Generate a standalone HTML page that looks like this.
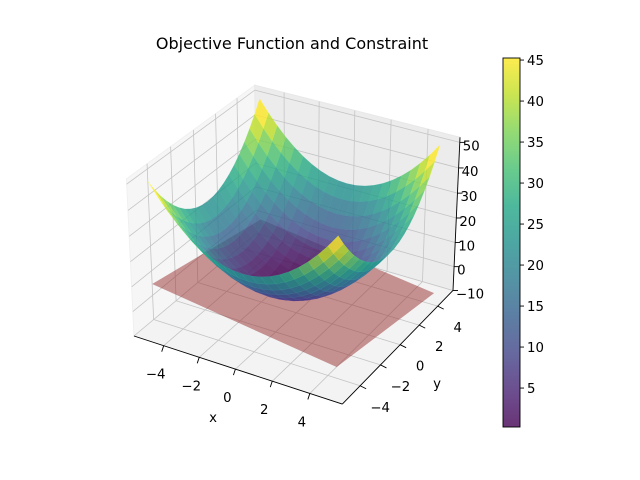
<!DOCTYPE html>
<html><head><meta charset="utf-8"><style>
html,body{margin:0;padding:0;background:#fff;width:640px;height:480px;overflow:hidden}
svg{display:block;font-family:"DejaVu Sans","Liberation Sans",sans-serif}
</style></head><body>
<svg id="chart" width="640" height="480" viewBox="0 0 640 480" xmlns="http://www.w3.org/2000/svg">
<text x="292" y="49" font-size="16" text-anchor="middle" fill="#000">Objective Function and Constraint</text>
<g id="axes3d"></g>
<g id="cbar"></g>
</svg>
<script>
const xVals=[-5,-4.5,-4,-3.5,-3,-2.5,-2,-1.5,-1,-0.5,0,0.5,1,1.5,2,2.5,3,3.5,4,4.5,5];
const yVals=[-5,-4.5,-4,-3.5,-3,-2.5,-2,-1.5,-1,-0.5,0,0.5,1,1.5,2,2.5,3,3.5,4,4.5,5];
const planeCoef=[-1,-1,0]; // constraint plane z = a*x + b*y + c
const planeExtent=[-5,5];
const xTicks=[-4,-2,0,2,4];
const yTicks=[-4,-2,0,2,4];
const zTicks=[-10,0,10,20,30,40,50];
const cbarTicks=[5,10,15,20,25,30,35,40,45];
const xlim=[-5.7,5.7], ylim=[-5.7,5.7], zlim=[-10,52];
function objective(x,y){return x*x+y*y;}

const NS="http://www.w3.org/2000/svg";
function mk(tag,attrs,parent){const e=document.createElementNS(NS,tag);for(const k in attrs)e.setAttribute(k,attrs[k]);parent.appendChild(e);return e;}
const VIR=[[68,1,84],[72,35,116],[64,67,135],[52,94,141],[41,120,142],[32,144,140],[34,167,132],[68,190,112],[121,209,81],[189,222,38],[253,231,36]];
function viridis(t){t=Math.max(0,Math.min(1,t));const f=t*10,i=Math.min(9,Math.floor(f)),r=f-i;const a=VIR[i],b=VIR[i+1];return [0,1,2].map(k=>Math.round(a[k]+(b[k]-a[k])*r));}

const box=[1.19,1.19,0.893];
const el=30*Math.PI/180, az=-60*Math.PI/180;
const ps=[Math.cos(el)*Math.cos(az),Math.cos(el)*Math.sin(az),Math.sin(el)];
const E=[box[0]/2+10*ps[0],box[1]/2+10*ps[1],box[2]/2+10*ps[2]];
const W=ps;
let U=[-W[1],W[0],0];{const n=Math.hypot(U[0],U[1]);U=[U[0]/n,U[1]/n,0];}
const V=[W[1]*U[2]-W[2]*U[1],W[2]*U[0]-W[0]*U[2],W[0]*U[1]-W[1]*U[0]];
function dot(a,b){return a[0]*b[0]+a[1]*b[1]+a[2]*b[2];}
function wc(x,y,z){return [(x-xlim[0])/(xlim[1]-xlim[0])*box[0],(y-ylim[0])/(ylim[1]-ylim[0])*box[1],(z-zlim[0])/(zlim[1]-zlim[0])*box[2]];}
function raw(x,y,z){const p=wc(x,y,z);const d=[p[0]-E[0],p[1]-E[1],p[2]-E[2]];const dz=-dot(d,W);return [dot(d,U)/dz,dot(d,V)/dz,dz];}
const L=raw(xlim[0],ylim[0],zlim[0]), Rr=raw(xlim[1],ylim[1],zlim[0]);
const S=(453-134)/(Rr[0]-L[0]); const CX=134-S*L[0]; const CY=336+S*L[1];
function P(x,y,z){const r=raw(x,y,z);return [CX+S*r[0],CY-S*r[1],r[2]];}
function pts(arr){return arr.map(p=>p[0].toFixed(2)+","+p[1].toFixed(2)).join(" ");}

const g=document.getElementById('axes3d');
const [x0,x1]=xlim,[y0,y1]=ylim,[z0,z1]=zlim;
const pLeft=mk('polygon',{points:pts([P(x0,y0,z0),P(x0,y1,z0),P(x0,y1,z1),P(x0,y0,z1)]),fill:'#f6f6f6',stroke:'#f0f0f0'},g);

const pBack=mk('polygon',{points:pts([P(x0,y1,z0),P(x1,y1,z0),P(x1,y1,z1),P(x0,y1,z1)]),fill:'#ececec',stroke:'#e8e8e8'},g);

const pFloor=mk('polygon',{points:pts([P(x0,y0,z0),P(x1,y0,z0),P(x1,y1,z0),P(x0,y1,z0)]),fill:'#f3f3f3',stroke:'#eeeeee'},g);

const gg=mk('g',{stroke:'#c4c4c4','stroke-width':0.8,fill:'none'},g);

function line(a,b,parent,attrs){const l=mk('line',Object.assign({x1:a[0],y1:a[1],x2:b[0],y2:b[1]},attrs||{}),parent);return l;}
xTicks.forEach(t=>{line(P(t,y0,z0),P(t,y1,z0),gg);line(P(t,y1,z0),P(t,y1,z1),gg);});
yTicks.forEach(t=>{line(P(x0,t,z0),P(x1,t,z0),gg);line(P(x0,t,z0),P(x0,t,z1),gg);});
zTicks.forEach(t=>{line(P(x0,y1,t),P(x1,y1,t),gg);line(P(x0,y0,t),P(x0,y1,t),gg);});
const ax=mk('g',{stroke:'#000','stroke-width':0.9},g);

line(P(x0,y0,z0),P(x1,y0,z0),ax);line(P(x1,y0,z0),P(x1,y1,z0),ax);line(P(x1,y1,z0),P(x1,y1,z1),ax);
const tl=mk('g',{'font-size':13.3,fill:'#000'},g);

function lab(s){return s<0?'\u2212'+Math.abs(s):String(s);}
xTicks.forEach(t=>{const p=P(t,y0,z0);line(p,[p[0]-2,p[1]+6],ax);
  const tx=mk('text',{x:p[0]-8,y:p[1]+33,'text-anchor':'middle'},tl);tx.textContent=lab(t);
  });
yTicks.forEach(t=>{const p=P(x1,t,z0);line(p,[p[0]+6,p[1]+3],ax);
  const tx=mk('text',{x:p[0]+20,y:p[1]+26,'text-anchor':'middle'},tl);tx.textContent=lab(t);
  });
zTicks.forEach(t=>{const p=P(x1,y1,t);line(p,[p[0]+5,p[1]],ax);
  const tx=mk('text',{x:p[0]+3,y:p[1]+8,'text-anchor':'start'},tl);tx.textContent=lab(t);
  });
const xl=mk('text',{x:213,y:422,'font-size':13.3,'text-anchor':'middle'},g);xl.textContent='x';

const yl=mk('text',{x:437,y:388,'font-size':13.3,'text-anchor':'middle'},g);yl.textContent='y';


const pe=planeExtent;
function pz(x,y){return planeCoef[0]*x+planeCoef[1]*y+planeCoef[2];}
const plane=mk('polygon',{points:pts([P(pe[0],pe[0],pz(pe[0],pe[0])),P(pe[1],pe[0],pz(pe[1],pe[0])),P(pe[1],pe[1],pz(pe[1],pe[1])),P(pe[0],pe[1],pz(pe[0],pe[1]))]),fill:'rgba(150,45,45,0.5)'},g);


const faces=[];let vmin=Infinity,vmax=-Infinity;
for(let i=0;i<xVals.length-1;i++)for(let j=0;j<yVals.length-1;j++){
  const c=[[xVals[i],yVals[j]],[xVals[i+1],yVals[j]],[xVals[i+1],yVals[j+1]],[xVals[i],yVals[j+1]]].map(q=>P(q[0],q[1],objective(q[0],q[1])));
  const avg=(objective(xVals[i],yVals[j])+objective(xVals[i+1],yVals[j])+objective(xVals[i+1],yVals[j+1])+objective(xVals[i],yVals[j+1]))/4;
  const depth=(c[0][2]+c[1][2]+c[2][2]+c[3][2])/4;
  faces.push({c,avg,depth});vmin=Math.min(vmin,avg);vmax=Math.max(vmax,avg);}
faces.sort((a,b)=>b.depth-a.depth);
const sg=mk('g',{},g);

faces.forEach(f=>{const col=viridis((f.avg-vmin)/(vmax-vmin));
  const p=mk('polygon',{points:pts(f.c),fill:`rgba(${col[0]},${col[1]},${col[2]},0.8)`,stroke:`rgba(${Math.min(255,col[0]+25)},${Math.min(255,col[1]+25)},${Math.min(255,col[2]+25)},0.35)`,'stroke-width':0.5},sg);
  
  });

const cb=document.getElementById('cbar');
const cbx=503,cbw=17,cbt=58,cbb=427;
const defs=mk('defs',{},cb);
const lg=mk('linearGradient',{id:'vg',x1:0,y1:1,x2:0,y2:0},defs);
for(let k=0;k<=20;k++){const c=viridis(k/20);mk('stop',{offset:(k/20),'stop-color':`rgb(${c[0]},${c[1]},${c[2]})`,'stop-opacity':0.8},lg);}
const cr=mk('rect',{x:cbx,y:cbt,width:cbw,height:cbb-cbt,fill:'url(#vg)',stroke:'#000','stroke-width':0.9},cb);

function cbY(v){return cbb-(v-vmin)/(vmax-vmin)*(cbb-cbt);}
cbarTicks.forEach(v=>{const y=cbY(v);mk('line',{x1:cbx+cbw,y1:y,x2:cbx+cbw+4,y2:y,stroke:'#000','stroke-width':0.9},cb);
  const t=mk('text',{x:cbx+cbw+7,y:y+5,'font-size':13.3,fill:'#000'},cb);t.textContent=String(v);
  });
</script>
</body></html>
